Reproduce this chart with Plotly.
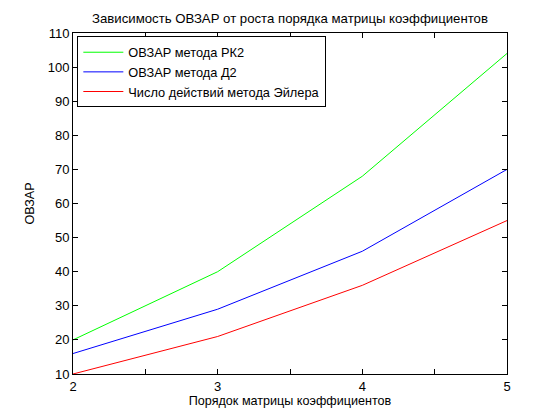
import plotly.graph_objects as go

x_order = [2, 3, 4, 5]
rk2 = [20, 40, 68, 104]
d2 = [16, 29, 46, 70]
euler = [10, 21, 36, 55]
names = ["ОВЗАР метода РК2", "ОВЗАР метода Д2", "Число действий метода Эйлера"]
x_tickvals = [2, 2.5, 3, 3.5, 4, 4.5, 5]
x_ticktext = ["2", "", "3", "", "4", "", "5"]
y_tickvals = list(range(10, 111, 10))

fig = go.Figure()
fig.add_trace(go.Scatter(x=x_order, y=rk2, mode="lines", name=names[0], line=dict(color="#00ff00", width=1)))
fig.add_trace(go.Scatter(x=x_order, y=d2, mode="lines", name=names[1], line=dict(color="#0000ff", width=1)))
fig.add_trace(go.Scatter(x=x_order, y=euler, mode="lines", name=names[2], line=dict(color="#ff0000", width=1)))

fam = "Liberation Sans, Arial, sans-serif"
font = dict(family=fam, size=12.6, color="black")
tickfont = dict(family=fam, size=13, color="black")
axis_common = dict(showgrid=False, zeroline=False, showline=True, linecolor="black", linewidth=1,
                   mirror="allticks", ticks="inside", ticklen=5, tickcolor="black", tickfont=tickfont)
# page has an 8px body margin; compensate
W, H = 552, 412
fig.update_layout(
    width=W, height=H,
    margin=dict(l=65, r=53, t=25, b=46),
    paper_bgcolor="white", plot_bgcolor="white",
    font=font,
    title=dict(text="Зависимость ОВЗАР от роста порядка матрицы коэффициентов", x=0.5, xref="paper",
               y=1 - 10/H, yanchor="middle", font=dict(size=13.2, family=fam, color="black")),
    xaxis=dict(range=[2, 5], tickvals=x_tickvals, ticktext=x_ticktext,
               title=dict(text="Порядок матрицы коэффициентов", font=font, standoff=2), **axis_common),
    yaxis=dict(range=[10, 110], tickvals=y_tickvals,
               title=dict(text="ОВЗАР", font=font, standoff=10), **axis_common),
    legend=dict(x=0.01, y=0.99, xanchor="left", yanchor="top", bgcolor="white",
                bordercolor="black", borderwidth=1, font=dict(size=12.8, family=fam, color="black"),
                tracegroupgap=0, itemwidth=40),
    showlegend=True,
)
fig.write_html("out.html")
